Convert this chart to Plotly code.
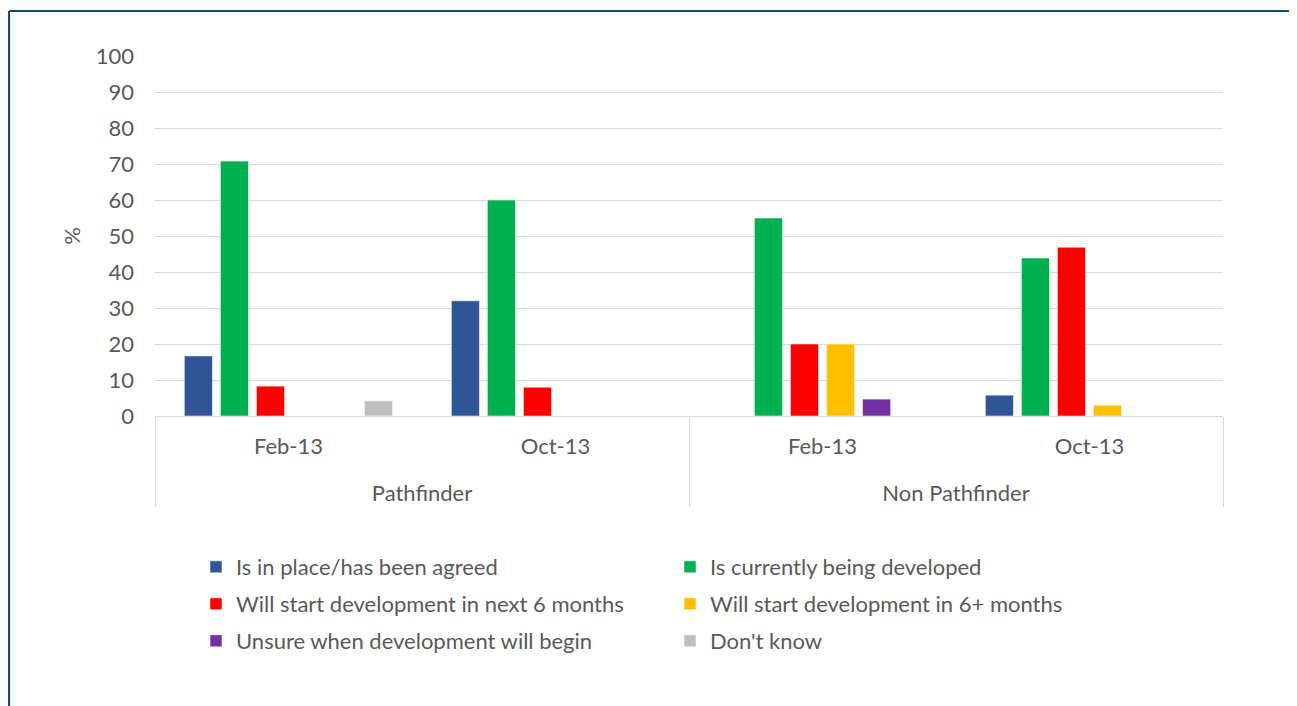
import plotly.graph_objects as go

groups = ["Pathfinder", "Pathfinder", "Non Pathfinder", "Non Pathfinder"]
periods = ["Feb-13", "Oct-13", "Feb-13", "Oct-13"]

series_names = [
    "Is in place/has been agreed",
    "Is currently being developed",
    "Will start development in next 6 months",
    "Will start development in 6+ months",
    "Unsure when development will begin",
    "Don't know",
]
in_place = [16.7, 32, 0, 5.8]
developing = [70.8, 60, 55, 43.9]
next_6 = [8.3, 8, 20, 46.9]
six_plus = [0, 0, 20, 3]
unsure = [0, 0, 4.7, 0]
dont_know = [4.2, 0, 0, 0]
colors = ["#2F5597", "#00B050", "#FF0000", "#FFC000", "#7030A0", "#BFBFBF"]

values = [in_place, developing, next_6, six_plus, unsure, dont_know]
y_ticks = list(range(0, 101, 10))

# figure is placed at (8, 8) in the page (default body margin)
W, H = 1289, 698
L, T = 147, 48
pw, ph = 1068, 360
R, B = W - L - pw, H - T - ph
plot_bottom = T + ph

TXT = "#595959"
FS = 22
font = "Lato, 'Open Sans', sans-serif"

legend_ids = ["legend", "legend", "legend2", "legend2", "legend3", "legend3"]

fig = go.Figure()
x_periods = [p + "<br> " for p in periods]
for name, vals, c, lg in zip(series_names, values, colors, legend_ids):
    fig.add_trace(go.Bar(
        x=[groups, x_periods], y=vals, name=name, legend=lg,
        marker=dict(color=c, line=dict(color="rgba(255,255,255,0.55)", width=1)),
    ))

def legend_cfg(row_center_y):
    return dict(
        orientation="h", x=(188 - L) / pw, xanchor="left",
        y=(plot_bottom - row_center_y) / ph, yanchor="middle",
        entrywidth=429, entrywidthmode="pixels",
        font=dict(family=font, size=FS, color=TXT),
        bgcolor="rgba(0,0,0,0)",
    )

fig.update_layout(
    width=W, height=H,
    margin=dict(l=L, r=R, t=T, b=B),
    paper_bgcolor="white", plot_bgcolor="white",
    barmode="group", bargap=0.19, bargroupgap=0.22,
    font=dict(family=font, size=FS, color=TXT),
    showlegend=True,
    legend=legend_cfg(559),
    legend2=legend_cfg(596),
    legend3=legend_cfg(633),
    xaxis=dict(
        showline=True, linecolor="#D9D9D9", linewidth=1,
        showdividers=True, dividercolor="#D9D9D9", dividerwidth=1,
        tickfont=dict(family=font, size=FS, color=TXT),
        showgrid=False, ticks="", ticklabelstandoff=11,
    ),
    yaxis=dict(
        range=[0, 100], tickvals=y_ticks, ticktext=[str(v) for v in y_ticks],
        showgrid=True, gridcolor="#D9D9D9", gridwidth=1,
        zeroline=False, showline=False,
        tickfont=dict(family=font, size=FS, color=TXT), ticklabelstandoff=20,
        title=dict(text="%", font=dict(family=font, size=FS, color=TXT), standoff=9),
    ),
)

# outer frame (left and top edges visible)
fx = (1 - L) / pw
fy = (plot_bottom - 3) / ph
fig.add_shape(type="line", xref="paper", yref="paper",
              x0=fx, x1=fx, y0=(plot_bottom - 720) / ph, y1=fy,
              line=dict(color="#0E4C70", width=2.2))
fig.add_shape(type="line", xref="paper", yref="paper",
              x0=fx, x1=(W + 20 - L) / pw, y0=fy, y1=fy,
              line=dict(color="#0E4C70", width=2.2))

fig.write_html(
    "out.html",
    post_script="document.documentElement.style.overflow='hidden';document.body.style.overflow='hidden';",
)
